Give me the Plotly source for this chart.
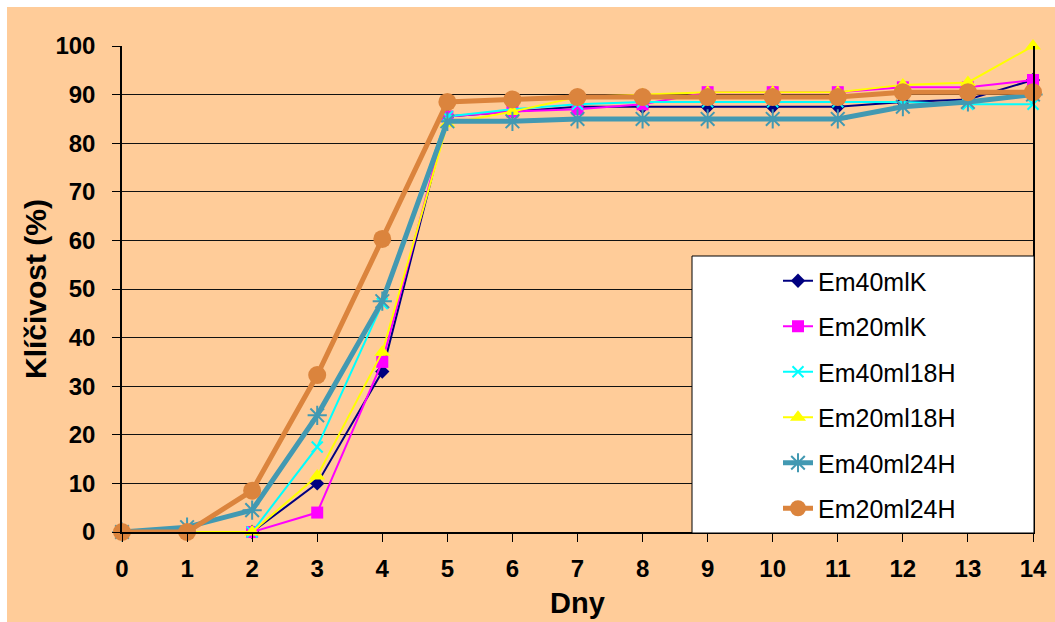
import plotly.graph_objects as go

# Germination over days for six treatments
days = list(range(15))
em40mlK = [0, 0, 0, 10, 33, 85.5, 86.5, 87.5, 87.5, 87.5, 87.5, 87.5, 88.5, 89, 93]
em20mlK = [0, 0, 0, 4, 35, 85.5, 86.5, 87, 88, 90.5, 90.5, 90.5, 91.5, 91.5, 93]
em40ml18H = [0, 0, 0, 17.5, 47, 85.5, 87, 88, 88.5, 88.5, 88.5, 88.5, 88.5, 88, 88]
em20ml18H = [0, 0, 0, 11.5, 37, 84, 86.5, 89.5, 90, 90.5, 90.5, 90.5, 92, 92.5, 100]
em40ml24H = [0, 1, 4.5, 24, 47.5, 84.5, 84.5, 85, 85, 85, 85, 85, 87.5, 88.5, 90]
em20ml24H = [0, 0, 8.5, 32.3, 60.3, 88.5, 89, 89.5, 89.5, 89.5, 89.5, 89.5, 90.5, 90.5, 90.5]

y_ticks = list(range(0, 101, 10))
x_ticks = days

series = [
    ("Em40mlK", em40mlK, "#000080", 2, dict(symbol="diamond", size=11, color="#000080")),
    ("Em20mlK", em20mlK, "#FF00FF", 2, dict(symbol="square", size=12, color="#FF00FF")),
    ("Em40ml18H", em40ml18H, "#00FFFF", 2,
     dict(symbol="x-thin-open", size=11, color="#00FFFF", line=dict(color="#00FFFF", width=2))),
    ("Em20ml18H", em20ml18H, "#FFFF00", 2, dict(symbol="triangle-up", size=14, color="#FFFF00")),
    ("Em40ml24H", em40ml24H, "#4299B2", 5,
     dict(symbol="asterisk-open", size=16, color="#4299B2", line=dict(color="#4299B2", width=2))),
    ("Em20ml24H", em20ml24H, "#DB843D", 5, dict(symbol="circle", size=18, color="#DB843D")),
]

PEACH = "#FFCC99"
FONT = "Liberation Sans, Arial, sans-serif"

fig = go.Figure()
for i, (name, vals, col, lw, mk) in enumerate(series):
    fig.add_trace(go.Scatter(
        x=days, y=vals, name=name, mode="lines+markers",
        line=dict(color=col, width=lw), marker=mk,
        cliponaxis=False, legendgroup=f"g{i}",
    ))

L, R, T, B = 122, 22, 46, 90
W, H = 1055, 622
pw, ph = W - L - R, H - T - B


def px_x(p):
    return (p - L) / pw


def px_y(p):
    return (H - B - p) / ph


shapes = [
    # white frame strips along the top and left edges
    dict(type="rect", xref="paper", yref="paper", x0=px_x(0), x1=px_x(W), y0=px_y(7), y1=px_y(0),
         fillcolor="white", line=dict(width=0), layer="below"),
    dict(type="rect", xref="paper", yref="paper", x0=px_x(0), x1=px_x(7), y0=px_y(H), y1=px_y(0),
         fillcolor="white", line=dict(width=0), layer="below"),
    # legend box
    dict(type="rect", xref="paper", yref="paper", x0=px_x(692), x1=px_x(1034), y0=px_y(533), y1=px_y(256),
         fillcolor="white", line=dict(color="black", width=1), layer="above"),
]

fig.update_layout(
    width=W, height=H,
    margin=dict(l=L, r=R, t=T, b=B),
    paper_bgcolor=PEACH, plot_bgcolor=PEACH,
    font=dict(family=FONT, color="black"),
    shapes=shapes,
    showlegend=True,
    legend=dict(
        x=px_x(778), y=px_y(258), xanchor="left", yanchor="top",
        bgcolor="rgba(0,0,0,0)", borderwidth=0,
        font=dict(family=FONT, size=25, color="black"),
        tracegroupgap=10,
    ),
    xaxis=dict(
        range=[0, 14], tickvals=x_ticks, ticktext=[str(v) for v in x_ticks],
        showgrid=False, zeroline=False, automargin=False,
        showline=True, linecolor="black", linewidth=1.5,
        ticks="outside", ticklen=8, tickcolor="black", tickwidth=1,
        tickfont=dict(family=FONT, size=24, weight="bold"),
        ticklabelstandoff=6,
        title=dict(text="Dny", font=dict(family=FONT, size=29, weight="bold"), standoff=12),
    ),
    yaxis=dict(
        range=[0, 100], tickvals=y_ticks, ticktext=[str(v) for v in y_ticks],
        showgrid=True, gridcolor="#111111", gridwidth=1, zeroline=False, automargin=False,
        showline=True, linecolor="black", linewidth=1.5, mirror=True,
        ticks="outside", ticklen=8, tickcolor="black", tickwidth=1,
        tickfont=dict(family=FONT, size=24, weight="bold"),
        ticklabelstandoff=12,
        title=dict(text="Klíčivost (%)", font=dict(family=FONT, size=30, weight="bold"), standoff=0),
    ),
)

fig.write_html("out.html")
